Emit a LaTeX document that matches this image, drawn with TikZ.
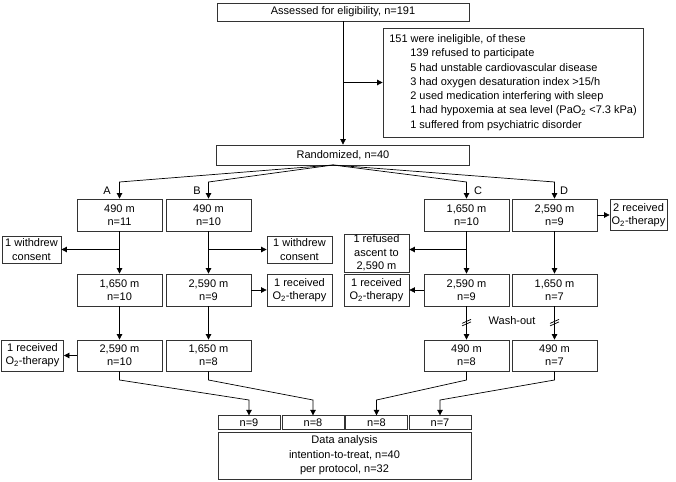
\documentclass[tikz,border=0pt]{standalone}
\usepackage{fontspec}
\setmainfont{Liberation Sans}
\usepackage{tikz}
\usetikzlibrary{calc}
\usetikzlibrary{arrows.meta}

\tikzset{
  box/.style={draw=black!80, line width=0.8pt, align=center, inner sep=0pt, font=\fontsize{11}{13.3}\selectfont},
  arm/.style={box, minimum width=85pt, minimum height=32pt},
  side/.style={box, minimum height=32pt},
  nbox/.style={box, minimum width=62pt, minimum height=13.5pt},
  link/.style={line width=0.7pt, -{Triangle[length=5.5pt,width=5.5pt]}},
  plain/.style={line width=0.7pt}
}

\begin{document}
\begin{tikzpicture}[x=1pt,y=-1pt,font=\fontsize{11}{14}\selectfont]
\useasboundingbox (0,0) rectangle (676,481);

\node[box, minimum width=252pt, minimum height=18pt] (assess) at (343,12) {Assessed for eligibility, n=191};
\node[box, minimum width=260pt, minimum height=109pt, align=left, font=\fontsize{11}{14.3}\selectfont] (inelig) at (513,82.5) {151 were ineligible, of these\\
\hspace*{21pt}139 refused to participate\\
\hspace*{21pt}5 had unstable cardiovascular disease\\
\hspace*{21pt}3 had oxygen desaturation index >15/h\\
\hspace*{21pt}2 used medication interfering with sleep\\
\hspace*{21pt}1 had hypoxemia at sea level (PaO\textsubscript{2} <7.3 kPa)\\
\hspace*{21pt}1 suffered from psychiatric disorder};
\node[box, minimum width=253pt, minimum height=20pt] (rand) at (343,155) {Randomized, n=40};

\node[arm] (a1) at (119.5,215) {490 m\\n=11};
\node[arm] (b1) at (208.5,215) {490 m\\n=10};
\node[arm] (c1) at (466.5,215) {1,650 m\\n=10};
\node[arm] (d1) at (554.5,215) {2,590 m\\n=9};
\node[arm] (a2) at (119.5,290) {1,650 m\\n=10};
\node[arm] (b2) at (208.5,290) {2,590 m\\n=9};
\node[arm] (c2) at (466.5,290) {2,590 m\\n=9};
\node[arm] (d2) at (554.5,290) {1,650 m\\n=7};
\node[arm, minimum height=31pt] (a3) at (119.5,355.5) {2,590 m\\n=10};
\node[arm, minimum height=31pt] (b3) at (208.5,355.5) {1,650 m\\n=8};
\node[arm, minimum height=31pt] (c3) at (466.5,355.5) {490 m\\n=8};
\node[arm, minimum height=31pt] (d3) at (554.5,355.5) {490 m\\n=7};

\node (labA) at (107,191) {A};
\node (labB) at (197,191) {B};
\node (labC) at (478,191) {C};
\node (labD) at (564,191) {D};

\node[side, minimum width=59pt, minimum height=27pt] (wdl) at (31.5,249.5) {1 withdrew\\consent};
\node[side, minimum width=65pt, minimum height=27pt] (wdr) at (299.5,249.5) {1 withdrew\\consent};
\node[side, minimum width=65pt] (recb) at (299.5,290) {1 received\\O\textsubscript{2}-therapy};
\node[side, minimum width=57pt, minimum height=31pt] (recd) at (638.5,215) {2 received\\O\textsubscript{2}-therapy};
\node[side, minimum width=65pt, minimum height=38pt] (refc) at (376.5,253) {1 refused\\ascent to\\2,590 m};
\node[side, minimum width=65pt] (recc) at (376.5,290) {1 received\\O\textsubscript{2}-therapy};
\node[side, minimum width=62pt, minimum height=31pt] (reca) at (32.5,355.5) {1 received\\O\textsubscript{2}-therapy};

\node[nbox] (n9) at (249,422.5) {n=9};
\node[nbox] (n8a) at (313,422.5) {n=8};
\node[nbox] (n8b) at (376.5,422.5) {n=8};
\node[nbox] (n7) at (440,422.5) {n=7};
\node[box, minimum width=253pt, minimum height=47pt, font=\fontsize{11}{14.5}\selectfont] (data) at (344.5,455.5) {Data analysis\\intention-to-treat, n=40\\per protocol, n=32};

\node (wash) at (512,321) {Wash-out};

\coordinate (rsplit) at (333,165);
\coordinate (kink) at (0,182);
\coordinate (brow) at (0,249.5);
\coordinate (lowrow) at (0,380);
\coordinate (midrow) at (0,400);

\draw[link] (assess) -- (rand);
\draw[link] (assess.south |- inelig.west) -- (inelig.west);
\foreach \c in {a1,b1,c1,d1}
  \draw[link] (rsplit) -- (\c.north |- kink) -- (\c.north);

\draw[link] (a1) -- (a2);
\draw[link] (a1.south |- brow) -- (wdl.east |- brow);
\draw[link] (b1) -- (b2);
\draw[link] (b1.south |- brow) -- (wdr.west |- brow);
\draw[link] (b2) -- (recb);
\draw[link] (c1) -- (c2);
\draw[link] (c1.south |- brow) -- (refc.east |- brow);
\draw[link] (c2) -- (recc);
\draw[link] (d1) -- (d2);
\draw[link] (d1) -- (recd);

\draw[link] (a2) -- (a3);
\draw[link] (b2) -- (b3);
\draw[link] (c2) -- (c3);
\draw[link] (d2) -- (d3);
\draw[link] (a3) -- (reca);
\foreach \c in {c2,d2} {
  \draw[plain] ($(\c.south)+(-4.5,17)$) -- ++(9,-4);
  \draw[plain] ($(\c.south)+(-4.5,19.5)$) -- ++(9,-4);
}

\draw[link] (a3.south) -- (a3.south |- lowrow) -- (n9.north |- midrow) -- (n9.north);
\draw[link] (b3.south) -- (b3.south |- lowrow) -- (n8a.north |- midrow) -- (n8a.north);
\draw[link] (c3.south) -- (c3.south |- lowrow) -- (n8b.north |- midrow) -- (n8b.north);
\draw[link] (d3.south) -- (d3.south |- lowrow) -- (n7.north |- midrow) -- (n7.north);

\end{tikzpicture}
\end{document}
